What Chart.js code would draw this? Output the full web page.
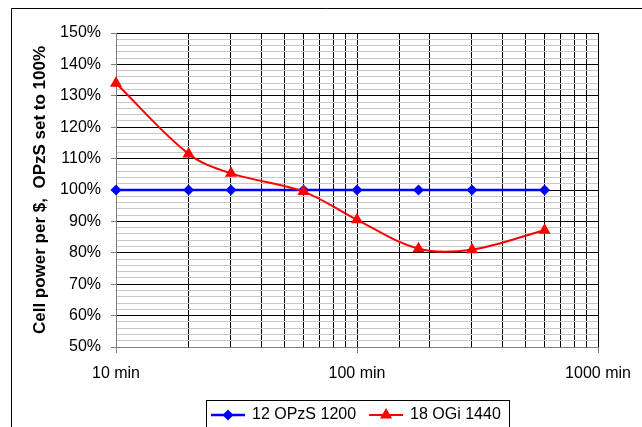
<!DOCTYPE html>
<html>
<head>
<meta charset="utf-8">
<script src="https://cdn.jsdelivr.net/npm/chart.js@4.4.0/dist/chart.umd.min.js"></script>
<style>
  html, body { margin: 0; padding: 0; background: #fff; overflow: hidden; }
  #wrap { width: 642px; height: 427px; position: relative; }
</style>
</head>
<body>
<div id="wrap"><canvas id="chart" width="642" height="427"></canvas></div>
<script>
// data
const minutes = [10, 20, 30, 60, 100, 180, 300, 600];
const opzsValues = [100, 100, 100, 100, 100, 100, 100, 100];
const ogiValues = [134, 111.5, 105.3, 99.5, 90.5, 81.3, 81, 87.2];
const seriesLabels = ["12 OPzS 1200", "18 OGi 1440"];
const xTickLabels = [10, 100, 1000];
const yTitle = "Cell power per $,  OPzS set to 100%";

const FONT = "'Liberation Sans', Arial, sans-serif";

// outer frame, like the excel chart border
const frame = {
  id: "frame",
  beforeDraw(chart) {
    const ctx = chart.ctx;
    ctx.save();
    ctx.strokeStyle = "#000";
    ctx.lineWidth = 1;
    ctx.beginPath();
    ctx.moveTo(11.5, chart.height);
    ctx.lineTo(11.5, 8.5);
    ctx.lineTo(chart.width, 8.5);
    ctx.stroke();
    ctx.restore();
  }
};

function drawMarker(ctx, style, x, y, r, color) {
  ctx.fillStyle = color;
  ctx.beginPath();
  if (style === "rectRot") {
    ctx.moveTo(x - r, y); ctx.lineTo(x, y - r); ctx.lineTo(x + r, y); ctx.lineTo(x, y + r);
  } else {
    ctx.moveTo(x, y - r);
    ctx.lineTo(x + r * 0.866, y + r / 2);
    ctx.lineTo(x - r * 0.866, y + r / 2);
  }
  ctx.closePath();
  ctx.fill();
}

// boxed legend under the plot
const legendBox = {
  id: "legendBox",
  afterDraw(chart) {
    const ctx = chart.ctx;
    const area = chart.chartArea;
    const w = 303;
    const left = Math.round((area.left + area.right) / 2 - w / 2);
    const top = Math.round(area.bottom + 53);
    ctx.save();
    ctx.strokeStyle = "#000";
    ctx.lineWidth = 1;
    ctx.strokeRect(left + 0.5, top + 0.5, w, 40);
    ctx.font = "16px " + FONT;
    ctx.textBaseline = "middle";
    ctx.fillStyle = "#000";
    const y = top + 15;
    let x = left + 5;
    chart.data.datasets.forEach(ds => {
      ctx.strokeStyle = ds.borderColor;
      ctx.lineWidth = ds.borderWidth;
      ctx.beginPath();
      ctx.moveTo(x, y);
      ctx.lineTo(x + 34, y);
      ctx.stroke();
      drawMarker(ctx, ds.pointStyle, x + 17, y, ds.pointRadius, ds.borderColor);
      ctx.fillStyle = "#000";
      ctx.fillText(ds.label, x + 41, y);
      x += 41 + ctx.measureText(ds.label).width + 13;
    });
    ctx.restore();
  }
};

new Chart(document.getElementById("chart"), {
  type: "line",
  data: {
    datasets: [
      {
        label: seriesLabels[0],
        data: minutes.map((m, i) => ({ x: m, y: opzsValues[i] })),
        borderColor: "#0000ff",
        backgroundColor: "#0000ff",
        borderWidth: 2.5,
        pointStyle: "rectRot",
        pointRadius: 5.5,
        pointBorderWidth: 0,
        tension: 0,
        clip: false,
        order: 1
      },
      {
        label: seriesLabels[1],
        data: minutes.map((m, i) => ({ x: m, y: ogiValues[i] })),
        borderColor: "#ff0000",
        backgroundColor: "#ff0000",
        borderWidth: 2,
        pointStyle: "triangle",
        pointRadius: 7,
        pointBorderWidth: 0,
        tension: 0.35,
        clip: false,
        order: 0
      }
    ]
  },
  options: {
    responsive: false,
    animation: false,
    devicePixelRatio: 1,
    layout: { padding: { left: 0, top: 33, right: 44, bottom: 40 } },
    plugins: {
      legend: { display: false },
      tooltip: { enabled: false }
    },
    scales: {
      x: {
        type: "logarithmic",
        min: 10,
        max: 1000,
        afterFit: s => { s.height = 40; },
        border: { color: "#808080", width: 1 },
        grid: {
          color: "#000",
          lineWidth: 1,
          tickLength: 6,
          tickColor: c => xTickLabels.includes(c.tick.value) ? "#808080" : "rgba(0,0,0,0)"
        },
        ticks: {
          autoSkip: false,
          maxRotation: 0,
          padding: 11,
          color: "#000",
          font: { family: FONT, size: 16 },
          callback: v => xTickLabels.includes(v) ? v + " min" : ""
        }
      },
      y: {
        min: 50,
        max: 150,
        afterFit: s => { s.width = 116; },
        border: { color: "#808080", width: 1 },
        grid: {
          color: c => c.tick.value % 10 === 0 ? "#000" : "#c8c8c8",
          lineWidth: 1,
          tickLength: 5,
          tickColor: c => c.tick.value % 10 === 0 ? "#808080" : "rgba(0,0,0,0)"
        },
        ticks: {
          stepSize: 2,
          autoSkip: false,
          padding: 10,
          color: "#000",
          font: { family: FONT, size: 16 },
          callback: v => v % 10 === 0 ? v + "%" : ""
        },
        title: {
          display: true,
          text: yTitle,
          color: "#000",
          font: { family: FONT, size: 17, weight: "bold" },
          padding: { top: 30, bottom: 0 }
        }
      }
    }
  },
  plugins: [frame, legendBox]
});
</script>
</body>
</html>
